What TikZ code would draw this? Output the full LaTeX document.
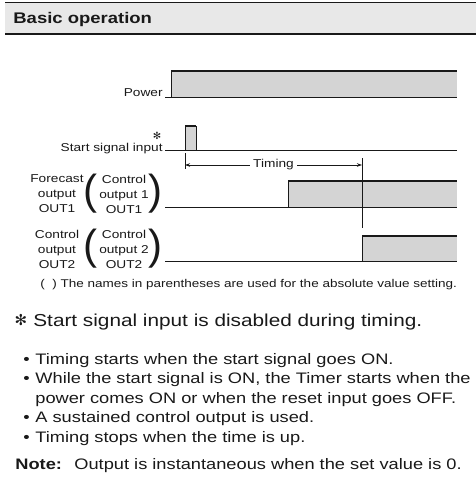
\documentclass[tikz,border=0pt]{standalone}
\usepackage{fontspec}
\setmainfont[FakeStretch=1.2]{Liberation Sans}
\newfontfamily\symfont{DejaVu Sans}
\newfontfamily\parfont{Liberation Sans}
\usetikzlibrary{arrows.meta}
\definecolor{band}{gray}{0.91}
\definecolor{hi}{gray}{0.83}
\definecolor{ink}{gray}{0.1}
\tikzset{
  lbl/.style={inner sep=0pt, text=ink, font=\fontsize{11.4}{15}\selectfont},
  prn/.style={inner sep=0pt, text=ink, font=\parfont\fontsize{42}{42}\selectfont},
  txt/.style={anchor=base west, inner sep=0pt, text=ink, font=\fontsize{15.2}{18}\selectfont}}
\begin{document}
\begin{tikzpicture}[x=1pt, y=-1pt, line width=0.8pt, draw=ink,
  thick top/.style={line width=2pt},
  tim/.style={{Stealth[length=5pt,width=3.5pt]}-{Stealth[length=5pt,width=3.5pt]}}]
\useasboundingbox (0,0) rectangle (476,482);
\fill[band] (5,3) rectangle (476,33);
\draw[line width=0.6pt] (5,2.5) -- (476,2.5);
\draw[line width=2pt] (5,33.5) -- (476,33.5);
\node[anchor=base west, inner sep=0pt, text=ink, font=\bfseries\fontsize{15.4}{18}\selectfont] (head) at (13,23) {Basic operation};
\newcommand{\sig}[5]{% name, low, high, rise, fall
  \fill[hi] (#4,#3) rectangle (#5,#2);
  \coordinate (#1) at (165,#2);
  \coordinate (#1e) at (457,#2);
  \draw (#1) -- (#1e);
  \draw (#4,#2) -- (#4,#3);
  \draw[thick top] (#4,#3) -- (#5,#3);}
\sig{pw}{97}{70.5}{171}{457}
\sig{st}{150.5}{125.5}{185}{196}
\draw (196,150.5) -- (196,125.5);
\sig{oa}{207}{180.5}{288}{457}
\sig{ob}{261}{235.5}{362}{457}
\node[lbl, anchor=base east] (pwl) at (163,96) {Power};
\node[lbl, anchor=base east] (stl) at (163,151) {Start signal input};
\node[inner sep=0pt, text=ink, font=\symfont\fontsize{10}{10}\selectfont] (ast) at (157,136) {✻};
\coordinate (ts) at (185,165);
\coordinate (te) at (362,165);
\draw (185,153) -- (185,169);
\draw (362,158) -- (362,228);
\draw[tim] (ts) -- (te) node[midway, lbl, fill=white, inner xsep=3pt] (tml) {Timing};
\foreach \y/\l/\m [count=\i] in {194/{Forecast\\output\\OUT1}/{Control\\output 1\\OUT1}, 249/{Control\\output\\OUT2}/{Control\\output 2\\OUT2}} {
  \node[lbl, align=center] (l\i) at (57,\y) {\l};
  \node[prn] (pa\i) at (90,\y) {(};
  \node[lbl, align=center] (m\i) at (124,\y) {\m};
  \node[prn] (pb\i) at (155,\y) {)};}
\node[lbl, anchor=base west, font=\fontsize{11.25}{15}\selectfont] (fn) at (40,287) {(~~) The names in parentheses are used for the absolute value setting.};
\node[inner sep=0pt, text=ink, font=\symfont\fontsize{15}{15}\selectfont] (bast) at (21,320) {✻};
\node[txt, font=\fontsize{17.3}{20}\selectfont] (dis) at (33,326) {Start signal input is disabled during timing.};
\foreach \y/\b/\t [count=\i] in {364/•/Timing starts when the start signal goes ON., 383.5/•/{While the start signal is ON, the Timer starts when the}, 403//{power comes ON or when the reset input goes OFF.}, 422.5/•/A sustained control output is used., 442/•/Timing stops when the time is up.} {
  \node[txt] (bl\i) at (23,\y) {\b};
  \node[txt] (tx\i) at (35,\y) {\t};}
\node[txt, font=\bfseries\fontsize{15.2}{18}\selectfont] (note) at (15,469) {Note:};
\node[txt] (ntx) at (74,469) {Output is instantaneous when the set value is 0.};
\end{tikzpicture}
\end{document}
